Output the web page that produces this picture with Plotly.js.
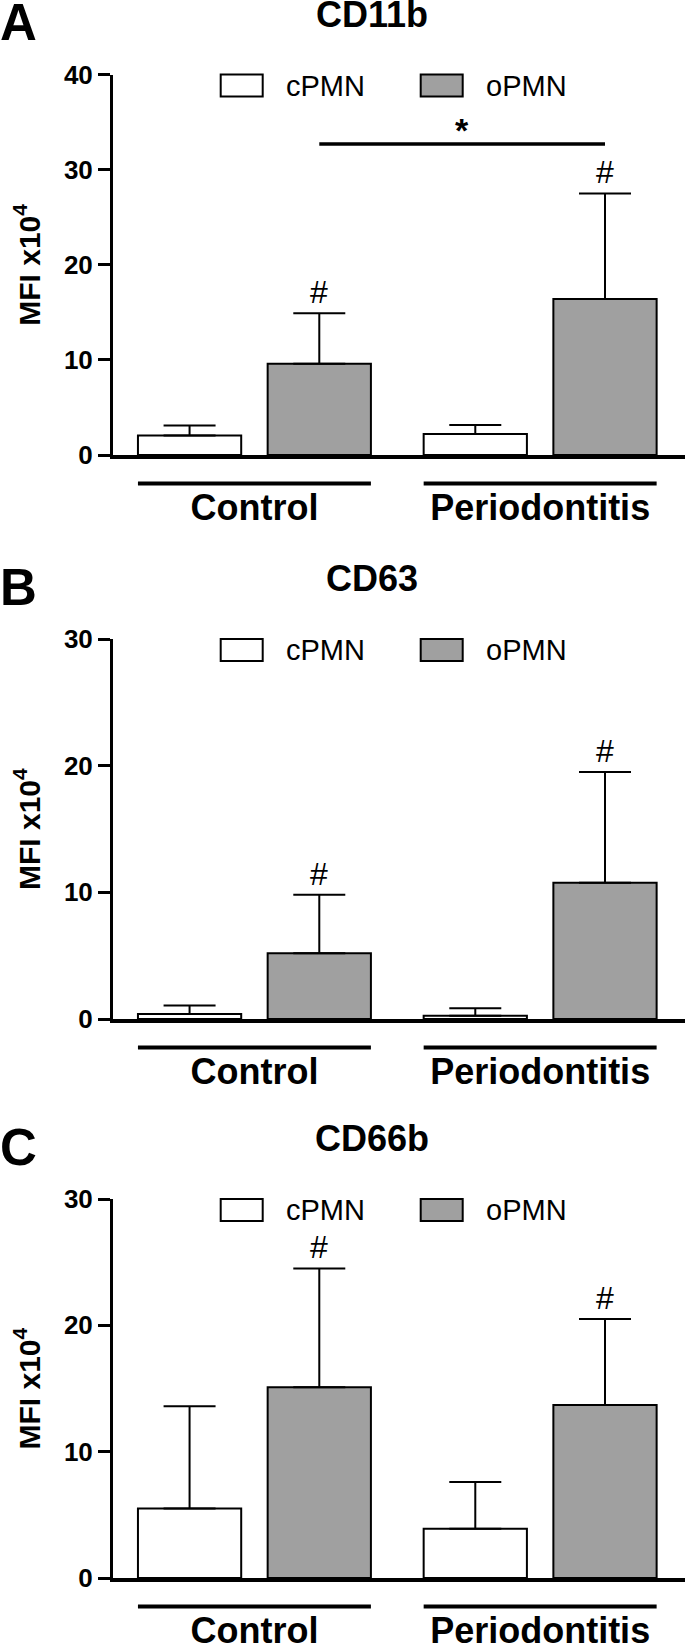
<!DOCTYPE html>
<html>
<head>
<meta charset="utf-8">
<script src="https://cdn.plot.ly/plotly-3.0.1.min.js"></script>
<style>html,body{margin:0;padding:0;background:#fff;}</style>
</head>
<body>
<div id="chart" style="width:685px;height:1643px;"></div>
<script>
// ---------------- DATA ----------------
const categories = ['Control', 'Periodontitis'];
const seriesNames = ['cPMN', 'oPMN'];
const panelTitles = ['CD11b', 'CD63', 'CD66b'];
const panelLetters = ['A', 'B', 'C'];
const yAxisTitle = 'MFI x10<sup>4</sup>';
const yMaxValues = [40, 30, 30];
const yTickValues = [[0, 10, 20, 30, 40], [0, 10, 20, 30], [0, 10, 20, 30]];

// mean and SD (MFI x10^4)
const cd11b_cPMN = [2.05, 2.2];
const cd11b_cPMN_sd = [1.05, 0.95];
const cd11b_oPMN = [9.6, 16.4];
const cd11b_oPMN_sd = [5.3, 11.1];

const cd63_cPMN = [0.4, 0.25];
const cd63_cPMN_sd = [0.67, 0.6];
const cd63_oPMN = [5.2, 10.75];
const cd63_oPMN_sd = [4.6, 8.75];

const cd66b_cPMN = [5.5, 3.9];
const cd66b_cPMN_sd = [8.1, 3.7];
const cd66b_oPMN = [15.1, 13.7];
const cd66b_oPMN_sd = [9.4, 6.8];

// '#' significance vs cPMN: flagged on oPMN bars (series index 1) of both groups
const hashSeries = 1;
const hashGroups = [[0, 1], [0, 1], [0, 1]];
// '*' between oPMN Control and oPMN Periodontitis in panel A
const starPanel = 0;
const starLevel = 32.7;
const starLabel = '*';

const panelMeans = [[cd11b_cPMN, cd11b_oPMN], [cd63_cPMN, cd63_oPMN], [cd66b_cPMN, cd66b_oPMN]];
const panelSDs = [[cd11b_cPMN_sd, cd11b_oPMN_sd], [cd63_cPMN_sd, cd63_oPMN_sd], [cd66b_cPMN_sd, cd66b_oPMN_sd]];

// ---------------- LAYOUT / STYLE ----------------
const W = 685, H = 1643;
const FONT = 'Liberation Sans, Arial, Helvetica, sans-serif';
const fills = ['#ffffff', '#a0a0a0'];
const panelTopPx = [74.5, 639, 1199];
const panelBottomPx = [455, 1019, 1578];
const plotLeftPx = 113;
const BARGAP = 0.092, BARGROUPGAP = 0.204;
const slot = (1 - BARGAP) / 2;
const barW = slot * (1 - BARGROUPGAP);
const seriesOffset = k => (k - 0.5) * slot;
const groupHalf = seriesOffset(1) + barW / 2;

const py = p => 1 - p / H;
const pxX = p => p / W;

const traces = [];
const shapes = [];
const annotations = [];
const layout = {
  width: W, height: H,
  margin: {l: 0, r: 0, t: 0, b: 0},
  paper_bgcolor: '#fff', plot_bgcolor: 'rgba(0,0,0,0)',
  barmode: 'group', bargap: BARGAP, bargroupgap: BARGROUPGAP,
  showlegend: false,
  font: {family: FONT, color: '#000'},
  shapes: shapes, annotations: annotations
};

for (let p = 0; p < 3; p++) {
  const s = p === 0 ? '' : String(p + 1);
  const xName = 'x' + s, yName = 'y' + s;
  for (let k = 0; k < 2; k++) {
    traces.push({
      type: 'bar', name: seriesNames[k],
      x: categories, y: panelMeans[p][k],
      xaxis: xName, yaxis: yName,
      marker: {color: fills[k], line: {color: '#000', width: 2}},
      error_y: {type: 'data', symmetric: false, array: panelSDs[p][k],
                arrayminus: panelSDs[p][k].map(() => 0),
                color: '#000', thickness: 2, width: 26},
      hoverinfo: 'x+y'
    });
  }
  layout['xaxis' + s] = {
    type: 'category', anchor: yName,
    domain: [plotLeftPx / W, 1],
    range: [-0.495, 1.507],
    showline: true, linewidth: 4, linecolor: '#000',
    ticks: '', showgrid: false, zeroline: false,
    ticklabelstandoff: 18,
    tickfont: {family: FONT, size: 36, weight: 700, color: '#000'},
    fixedrange: true
  };
  layout['yaxis' + s] = {
    anchor: xName,
    domain: [py(panelBottomPx[p]), py(panelTopPx[p])],
    range: [0, yMaxValues[p]],
    tickvals: yTickValues[p],
    ticks: 'outside', ticklen: 12, tickwidth: 3, tickcolor: '#000',
    showline: true, linewidth: 3, linecolor: '#000',
    showgrid: false, zeroline: false,
    tickfont: {family: FONT, size: 26, weight: 700, color: '#000'},
    fixedrange: true
  };

  const top = panelTopPx[p], bottom = panelBottomPx[p];
  // y-axis title (rotated)
  annotations.push({xref: 'paper', yref: 'paper', x: pxX(27), y: py((top + bottom) / 2),
    xanchor: 'center', yanchor: 'middle', textangle: -90, showarrow: false, text: yAxisTitle,
    font: {family: FONT, size: 30, weight: 700, color: '#000'}});
  // panel letter
  annotations.push({xref: 'paper', yref: 'paper', x: 0, y: py(top - 52), xanchor: 'left', yanchor: 'middle',
    xshift: -2, text: panelLetters[p], showarrow: false, font: {family: FONT, size: 51, weight: 700, color: '#000'}});
  // panel title
  annotations.push({xref: 'paper', yref: 'paper', x: pxX(372.5), y: py(top - 60.2), xanchor: 'center', yanchor: 'middle',
    text: panelTitles[p], showarrow: false, font: {family: FONT, size: 36, weight: 700, color: '#000'}});
  // legend (boxes + labels)
  const legBoxX = [220.7, 420.7], legTextX = [284, 484];
  for (let k = 0; k < 2; k++) {
    shapes.push({type: 'rect', xref: 'paper', yref: 'paper',
      x0: pxX(legBoxX[k]), x1: pxX(legBoxX[k] + 42), y0: py(top + 22), y1: py(top),
      fillcolor: fills[k], line: {color: '#000', width: 2}});
    annotations.push({xref: 'paper', yref: 'paper', x: pxX(legTextX[k]), y: py(top + 11.3), xanchor: 'left', yanchor: 'middle',
      text: seriesNames[k], showarrow: false, font: {family: FONT, size: 29, color: '#000'}});
  }
  // group underline bars
  for (let g = 0; g < categories.length; g++) {
    shapes.push({type: 'line', xref: xName, yref: 'paper',
      x0: g - groupHalf, x1: g + groupHalf, y0: py(bottom + 28.5), y1: py(bottom + 28.5),
      line: {color: '#000', width: 4}});
  }
  // '#' marks
  hashGroups[p].forEach(g => {
    annotations.push({xref: xName, yref: yName, x: g + seriesOffset(hashSeries),
      y: panelMeans[p][hashSeries][g] + panelSDs[p][hashSeries][g],
      yshift: 21, xanchor: 'center', yanchor: 'middle', showarrow: false, text: '#',
      font: {family: FONT, size: 32, color: '#000'}});
  });
  // '*' comparison
  if (p === starPanel) {
    shapes.push({type: 'line', xref: xName, yref: yName,
      x0: 0 + seriesOffset(1), x1: 1 + seriesOffset(1), y0: starLevel, y1: starLevel,
      line: {color: '#000', width: 3.5}});
    annotations.push({xref: xName, yref: yName, x: 0.5 + seriesOffset(1), y: starLevel,
      yshift: 14, xanchor: 'center', yanchor: 'middle', showarrow: false, text: starLabel,
      font: {family: FONT, size: 34, weight: 700, color: '#000'}});
  }
}

Plotly.newPlot('chart', traces, layout, {staticPlot: true, displayModeBar: false});
</script>
</body>
</html>
